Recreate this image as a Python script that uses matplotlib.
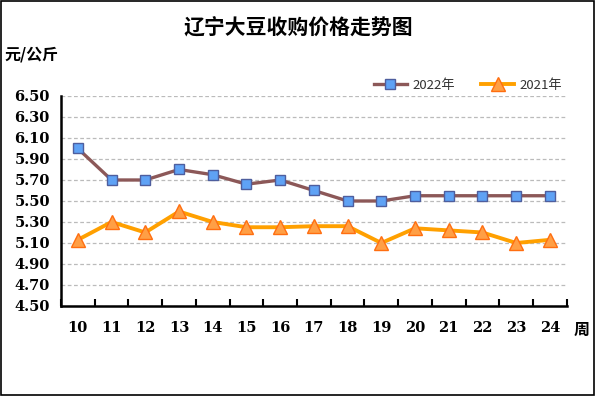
import matplotlib
matplotlib.use("Agg")
import matplotlib.pyplot as plt
from matplotlib.patches import Rectangle

plt.rcParams['font.family'] = ['Noto Sans CJK SC', 'DejaVu Sans']

weeks = ["10", "11", "12", "13", "14", "15", "16", "17", "18", "19", "20", "21", "22", "23", "24"]
price_2022 = [6.00, 5.70, 5.70, 5.80, 5.75, 5.66, 5.70, 5.60, 5.50, 5.50, 5.55, 5.55, 5.55, 5.55, 5.55]
price_2021 = [5.13, 5.30, 5.20, 5.40, 5.30, 5.25, 5.25, 5.26, 5.26, 5.10, 5.24, 5.22, 5.20, 5.10, 5.13]
y_ticks = [4.50, 4.70, 4.90, 5.10, 5.30, 5.50, 5.70, 5.90, 6.10, 6.30, 6.50]

fig = plt.figure(figsize=(5.96, 3.96), dpi=100)
fig.patches.append(Rectangle((0.002, 0.002), 0.995, 0.995, transform=fig.transFigure,
                             fill=False, edgecolor='black', linewidth=1.2))
ax = fig.add_axes([0.1023, 0.2273, 0.8487, 0.5303])

x = list(range(len(weeks)))
ax.plot(x, price_2022, color='#8C5858', linewidth=2.4, marker='s', markersize=7.5,
        markerfacecolor='#5FA2F5', markeredgecolor='#4E5E9E', markeredgewidth=1.0,
        label='2022年', zorder=3)
ax.plot(x, price_2021, color='#FFA000', linewidth=2.8, marker='^', markersize=10,
        markerfacecolor='#FF9F45', markeredgecolor='#FF6E10', markeredgewidth=1.0,
        label='2021年', zorder=3)

ax.set_xlim(-0.5, len(weeks) - 0.5)
ax.set_ylim(4.50, 6.50)
ax.set_yticks(y_ticks)
ax.set_yticklabels([f"{v:.2f}" for v in y_ticks], fontfamily='DejaVu Serif',
                   fontweight='bold', fontsize=10.5)
ax.tick_params(axis='y', length=0, pad=8)
ax.yaxis.grid(True, linestyle=(0, (3, 2)), color='#BBBBBB', linewidth=0.9)
ax.set_axisbelow(True)

ax.set_xticks([i - 0.5 for i in range(len(weeks) + 1)])
ax.set_xticklabels([])
ax.tick_params(axis='x', which='major', direction='in', length=5, width=1.5)
ax.set_xticks(x, minor=True)
ax.set_xticklabels(weeks, minor=True, fontfamily='DejaVu Serif',
                   fontweight='bold', fontsize=10.5)
ax.tick_params(axis='x', which='minor', length=0, pad=11)

for s in ['top', 'right']:
    ax.spines[s].set_visible(False)
for s in ['left', 'bottom']:
    ax.spines[s].set_linewidth(1.8)

fig.text(0.5, 0.93, "辽宁大豆收购价格走势图", ha='center', va='center',
         fontsize=15, fontweight='bold')
fig.text(0.008, 0.862, "元/公斤", ha='left', va='center', fontsize=11.5, fontweight='bold')
fig.text(0.963, 0.166, "周", ha='left', va='center', fontsize=11.5, fontweight='bold')

leg = fig.legend(loc='center', bbox_to_anchor=(0.785, 0.785), ncol=2, frameon=False,
                 fontsize=9.5, handlelength=2.5, columnspacing=2.0, handletextpad=0.4)
for t in leg.get_texts():
    t.set_color('#333333')

fig.savefig("out.png", dpi=100)
